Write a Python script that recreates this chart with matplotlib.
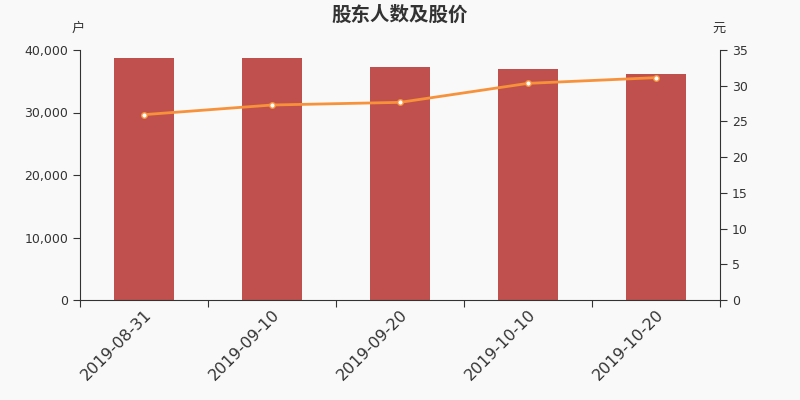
import matplotlib
matplotlib.use("Agg")
import matplotlib.pyplot as plt

plt.rcParams['font.family'] = ['Noto Sans CJK SC', 'DejaVu Sans']

dates = ["2019-08-31", "2019-09-10", "2019-09-20", "2019-10-10", "2019-10-20"]
holders = [38720, 38720, 37280, 37010, 36210]
prices = [25.95, 27.30, 27.67, 30.33, 31.13]
left_ticks = [0, 10000, 20000, 30000, 40000]
right_ticks = [0, 5, 10, 15, 20, 25, 30, 35]

bg = '#f9f9f9'
axc = '#333333'
fig = plt.figure(figsize=(8, 4), dpi=100, facecolor=bg)
ax = fig.add_axes([0.1, 0.25, 0.8, 0.625])
ax.set_facecolor(bg)
x = list(range(len(dates)))
ax.bar(x, holders, width=0.47, color='#c0504d', zorder=2)
ax.set_xlim(-0.5, len(dates) - 0.5)
ax.set_ylim(0, 40000)
ax.set_yticks(left_ticks)
ax.set_yticklabels([f"{v:,}" for v in left_ticks])
ax.set_xticks([i - 0.5 for i in range(len(dates) + 1)], minor=False)
ax.set_xticklabels([])
ax.set_xticks(x, minor=True)
ax.set_xticklabels(dates, minor=True, rotation=45, ha='right', rotation_mode='anchor',
                   fontsize=11.5, color=axc, family='DejaVu Sans')
ax.tick_params(axis='x', which='minor', length=0, pad=5)
ax.tick_params(axis='x', which='major', length=5, color=axc, direction='out')
ax.tick_params(axis='y', length=5, color=axc, labelsize=9, labelcolor=axc)
for t in ax.get_yticklabels():
    t.set_family('DejaVu Sans')
for s in ['top', 'right']:
    ax.spines[s].set_visible(False)
for s in ['left', 'bottom']:
    ax.spines[s].set_color(axc)

ax2 = ax.twinx()
ax2.plot(x, prices, color='#f7923a', linewidth=2, marker='o', markersize=4,
         markerfacecolor='white', markeredgecolor='#f7923a', markeredgewidth=1, zorder=3)
ax2.set_ylim(0, 35)
ax2.set_yticks(right_ticks)
ax2.tick_params(axis='y', length=5, color=axc, labelsize=9, labelcolor=axc)
for t in ax2.get_yticklabels():
    t.set_family('DejaVu Sans')
for s in ['top', 'left', 'bottom']:
    ax2.spines[s].set_visible(False)
ax2.spines['right'].set_color(axc)

fig.text(0.5, 0.962, "股东人数及股价", ha='center', va='center', fontsize=14,
         fontweight='bold', color=axc)
fig.text(0.0975, 0.93, "户", ha='center', va='center', fontsize=9.5, color=axc)
fig.text(0.899, 0.93, "元", ha='center', va='center', fontsize=9.5, color=axc)

fig.savefig("out.png", dpi=100, facecolor=bg)
